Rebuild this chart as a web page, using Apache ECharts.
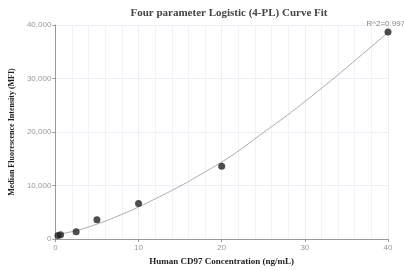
<!DOCTYPE html>
<html>
<head>
<meta charset="utf-8">
<script src="https://cdn.jsdelivr.net/npm/echarts@6/dist/echarts.min.js"></script>
<style>
    html, body { margin: 0; padding: 0; background: #fff; }
    #chart { width: 404px; height: 271px; }
</style>
</head>
<body>
<div id="chart"></div>
<script>
    // measured standards
    var concX = [0.3125, 0.625, 2.5, 5, 10, 20, 40];
    var mfiY = [650, 800, 1360, 3600, 6650, 13600, 38700];
    // fitted curve
    var fitX = [0, 2.5, 5, 7.5, 10, 12.5, 15, 17.5, 20, 22.5, 25, 27.5, 30, 32.5, 35, 37.5, 40];
    var fitY = [750, 1600, 2800, 4300, 6000, 7900, 9900, 12100, 14400, 17000, 19900, 22700, 25700, 28800, 32000, 35300, 38600];
    var r2Text = 'R^2=0.9971';

    var chart = echarts.init(document.getElementById('chart'));

    var fitData = fitX.map(function (x, i) { return [x, fitY[i]]; });
    var pointData = concX.map(function (x, i) {
        var d = { value: [x, mfiY[i]] };
        if (i === concX.length - 1) {
            d.label = { show: true, position: 'top', formatter: r2Text, color: '#666', fontSize: 8, distance: 1 };
        }
        return d;
    });

    var option = {
        animation: false,
        title: {
            text: 'Four parameter Logistic (4-PL) Curve Fit',
            left: 224,
            textAlign: 'center',
            top: 3,
            textStyle: { fontFamily: 'Liberation Serif', fontWeight: 'bold', fontSize: 11, color: '#444' }
        },
        grid: { left: 54, right: 16, top: 25, bottom: 31 },
        xAxis: {
            type: 'value',
            min: 0,
            max: 40,
            interval: 10,
            name: 'Human CD97 Concentration (ng/mL)',
            nameLocation: 'middle',
            nameGap: 16,
            nameTextStyle: { fontFamily: 'Liberation Serif', fontWeight: 'bold', fontSize: 9, color: '#222' },
            axisLine: { show: true, lineStyle: { color: '#999' } },
            axisTick: { show: true, length: 3, lineStyle: { color: '#999' } },
            axisLabel: { fontSize: 8, color: '#999', margin: 5 },
            splitLine: { show: true, lineStyle: { color: '#eceef5' } },
            minorTick: { show: false, splitNumber: 5 },
            minorSplitLine: { show: true, lineStyle: { color: '#f1f2f8' } }
        },
        yAxis: {
            type: 'value',
            min: 0,
            max: 40000,
            interval: 10000,
            name: 'Median Fluorescence Intensity (MFI)',
            nameLocation: 'middle',
            nameGap: 34,
            nameTextStyle: { fontFamily: 'Liberation Serif', fontWeight: 'bold', fontSize: 8, color: '#222' },
            axisLine: { show: true, lineStyle: { color: '#999' } },
            axisTick: { show: true, length: 3, lineStyle: { color: '#999' } },
            axisLabel: { fontSize: 8, color: '#999', margin: 4 },
            splitLine: { show: true, lineStyle: { color: '#eceef5' } }
        },
        series: [{
            name: 'fit',
            type: 'line',
            smooth: true,
            showSymbol: false,
            lineStyle: { color: '#aaa', width: 1 },
            data: fitData,
            z: 1
        }, {
            name: 'standards',
            type: 'scatter',
            symbolSize: 7,
            itemStyle: { color: '#222' },
            data: pointData,
            z: 2
        }]
    };
    chart.setOption(option);
</script>
</body>
</html>
